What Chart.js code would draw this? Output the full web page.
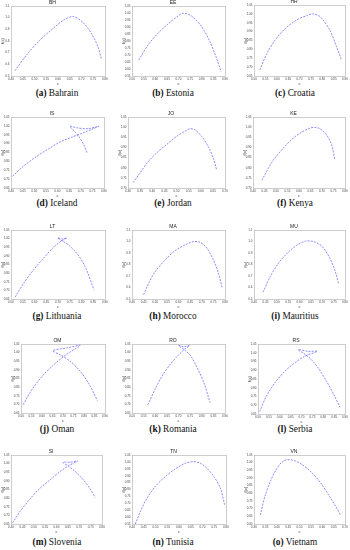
<!DOCTYPE html>
<html>
<head>
<meta charset="utf-8">
<script src="https://cdn.jsdelivr.net/npm/chart.js@4/dist/chart.umd.min.js"></script>
<style>
  body { margin: 0; background: #fff; }
  #page { position: relative; width: 350px; height: 550px; overflow: hidden; }
  .panel { position: absolute; }
  .cap { position: absolute; width: 116px; text-align: center; font-family: "Liberation Serif", serif; font-size: 9.3px; color: #111; white-space: nowrap; }
  .cap b { font-weight: bold; }
</style>
</head>
<body>
<div id="page"></div>
<script>
// country codes, captions
const codes = ["BH","EE","HR","IS","JO","KE","LT","MA","MU","OM","RO","RS","SI","TN","VN"];
const names = ["Bahrain","Estonia","Croatia","Iceland","Jordan","Kenya","Lithuania","Morocco","Mauritius","Oman","Romania","Serbia","Slovenia","Tunisia","Vietnam"];
const letters = ["a","b","c","d","e","f","g","h","i","j","k","l","m","n","o"];

// axis ranges (c on x, f(c) on y)
const xMin = [0.4,0.5,0.5,0.4,0.3,0.4,0.5,0.4,0.4,0.5,0.5,0.5,0.4,0.4,0.3];
const xMax = [0.8,0.9,0.9,0.8,0.7,0.8,0.9,0.8,0.8,0.9,0.9,0.9,0.8,0.8,0.7];
const yMin = [0.5,0.55,0.65,0.65,0.7,0.7,0.65,0.5,0.5,0.65,0.65,0.65,0.65,0.55,0.6];
const yMax = [1.1,1.05,1.05,1.05,1.05,1.05,1.05,1.1,1.1,1.05,1.05,1.05,1.05,1.05,1.05];
const yStep = [0.1,0.05,0.05,0.05,0.05,0.05,0.05,0.1,0.1,0.05,0.05,0.05,0.05,0.05,0.05];

// curves
const BH_c = [0.417,0.466,0.523,0.58,0.629,0.667,0.707,0.742,0.77,0.784];
const BH_f = [0.546,0.68,0.808,0.909,0.986,1.009,0.957,0.866,0.751,0.651];
const EE_c = [0.529,0.569,0.612,0.655,0.698,0.72,0.756,0.799,0.835,0.864,0.883];
const EE_f = [0.665,0.772,0.855,0.922,0.979,0.998,0.979,0.903,0.795,0.676,0.581];
const HR_c = [0.526,0.556,0.592,0.636,0.688,0.732,0.758,0.79,0.834,0.863,0.885];
const HR_f = [0.684,0.776,0.851,0.916,0.966,0.99,1.0,0.985,0.907,0.814,0.739];
const IS_c = [0.407,0.453,0.51,0.567,0.61,0.66,0.71,0.753,0.778,0.732,0.688,0.653,0.674,0.696,0.713,0.727];
const IS_f = [0.716,0.772,0.828,0.875,0.909,0.936,0.96,0.984,0.998,0.984,0.988,0.998,0.969,0.932,0.894,0.847];
const JO_c = [0.321,0.348,0.383,0.424,0.466,0.5,0.534,0.555,0.576,0.604,0.631,0.652,0.666];
const JO_f = [0.727,0.771,0.83,0.879,0.921,0.954,0.979,0.992,0.987,0.954,0.904,0.846,0.788];
const KE_c = [0.439,0.466,0.494,0.531,0.574,0.611,0.647,0.669,0.691,0.72,0.742,0.756];
const KE_f = [0.738,0.796,0.846,0.896,0.945,0.975,0.995,0.999,0.992,0.962,0.912,0.838];
const LT_c = [0.518,0.554,0.596,0.638,0.681,0.716,0.738,0.72,0.698,0.72,0.744,0.78,0.815,0.853];
const LT_f = [0.662,0.742,0.819,0.886,0.95,0.988,1.004,0.998,1.004,0.985,0.964,0.915,0.838,0.704];
const MA_c = [0.45,0.472,0.5,0.543,0.586,0.628,0.664,0.693,0.722,0.75,0.772,0.788];
const MA_f = [0.538,0.639,0.739,0.84,0.921,0.97,0.999,0.993,0.942,0.84,0.725,0.595];
const MU_c = [0.44,0.472,0.508,0.548,0.588,0.628,0.664,0.7,0.732,0.756,0.772];
const MU_f = [0.56,0.698,0.812,0.902,0.968,1.004,0.998,0.956,0.86,0.746,0.632];
const OM_c = [0.51,0.552,0.6,0.647,0.694,0.734,0.782,0.718,0.652,0.686,0.734,0.782,0.821,0.864];
const OM_f = [0.698,0.785,0.862,0.92,0.969,1.004,1.042,1.027,1.011,0.988,0.95,0.892,0.824,0.722];
const RO_c = [0.568,0.6,0.632,0.668,0.7,0.728,0.748,0.724,0.7,0.724,0.752,0.78,0.808,0.836];
const RO_f = [0.698,0.79,0.87,0.938,0.986,1.022,1.042,1.034,1.042,1.018,0.982,0.914,0.83,0.71];
const RS_c = [0.508,0.538,0.577,0.623,0.669,0.715,0.772,0.731,0.685,0.708,0.738,0.777,0.815,0.849,0.877];
const RS_f = [0.665,0.751,0.827,0.894,0.942,0.98,1.008,1.008,1.018,0.998,0.97,0.913,0.837,0.76,0.688];
const SI_c = [0.407,0.44,0.484,0.528,0.572,0.616,0.653,0.693,0.66,0.628,0.653,0.682,0.712,0.741,0.77];
const SI_f = [0.656,0.723,0.796,0.858,0.906,0.954,0.988,1.015,1.008,1.008,0.985,0.954,0.915,0.867,0.804];
const TN_c = [0.414,0.436,0.464,0.499,0.542,0.584,0.627,0.662,0.691,0.719,0.748,0.776,0.794];
const TN_f = [0.55,0.642,0.738,0.822,0.894,0.949,0.99,1.002,0.99,0.954,0.894,0.81,0.69];
const VN_c = [0.328,0.348,0.372,0.396,0.42,0.444,0.476,0.512,0.552,0.592,0.632,0.66,0.68];
const VN_f = [0.659,0.78,0.879,0.951,1.0,1.019,1.014,0.987,0.938,0.87,0.78,0.713,0.659];

const curvesC = [BH_c,EE_c,HR_c,IS_c,JO_c,KE_c,LT_c,MA_c,MU_c,OM_c,RO_c,RS_c,SI_c,TN_c,VN_c];
const curvesF = [BH_f,EE_f,HR_f,IS_f,JO_f,KE_f,LT_f,MA_f,MU_f,OM_f,RO_f,RS_f,SI_f,TN_f,VN_f];

// plot box in page pixels: left, top, right, bottom
const boxes = [
  [11,6,105,76],[132,6,225,76],[254,5,345,76],
  [11,117,104,188],[128,117,225,188],[253,117,345,188],
  [11,230,105,299],[132,230,225,299],[254,230,345,299],
  [21,344,105,413],[132,344,225,413],[258,344,345,414],
  [11,455,102,524],[132,455,226,524],[254,455,345,524]
];
const capY = [94,204,317,430,543];
const capX = [57,173,295];

const Y_W = 11, TITLE_H = 6, X_H = 10, PAD_R = 3;

const frame = {
  id: "frame",
  beforeDatasetsDraw(chart) {
    const a = chart.chartArea, ctx = chart.ctx;
    ctx.save();
    ctx.strokeStyle = "#b8b8b8";
    ctx.lineWidth = 0.7;
    ctx.strokeRect(Math.round(a.left) + 0.5, Math.round(a.top) + 0.5, Math.round(a.right - a.left), Math.round(a.bottom - a.top));
    ctx.restore();
  }
};

const page = document.getElementById("page");
const tickFont = { family: "Liberation Sans", size: 3 };

codes.forEach(function (code, i) {
  const b = boxes[i];
  const div = document.createElement("div");
  div.className = "panel";
  div.style.left = (b[0] - Y_W) + "px";
  div.style.top = (b[1] - TITLE_H) + "px";
  div.style.width = (b[2] - b[0] + Y_W + PAD_R) + "px";
  div.style.height = (b[3] - b[1] + TITLE_H + X_H) + "px";
  const cv = document.createElement("canvas");
  div.appendChild(cv);
  page.appendChild(div);

  const cap = document.createElement("div");
  cap.className = "cap";
  cap.style.left = (capX[i % 3] - 58) + "px";
  cap.style.top = (capY[Math.floor(i / 3)] - 6) + "px";
  cap.innerHTML = "<b>(" + letters[i] + ")</b> " + names[i];
  page.appendChild(cap);

  const pts = curvesC[i].map(function (c, k) { return { x: c, y: curvesF[i][k] }; });

  new Chart(cv, {
    type: "scatter",
    data: {
      datasets: [{
        data: pts,
        showLine: true,
        pointRadius: 0,
        borderColor: "rgb(90,90,255)",
        borderWidth: 0.7,
        borderDash: [2, 1.2],
        tension: 0.3
      }]
    },
    plugins: [frame],
    options: {
      responsive: true,
      maintainAspectRatio: false,
      animation: false,
      devicePixelRatio: 1,
      layout: { padding: { top: 0, left: 0, bottom: 0, right: PAD_R } },
      plugins: {
        legend: { display: false },
        tooltip: { enabled: false },
        title: {
          display: true,
          text: code,
          color: "#222",
          font: { family: "Liberation Sans", size: 5, weight: "normal" },
          padding: { top: 0, bottom: 0 }
        }
      },
      scales: {
        x: {
          type: "linear",
          min: xMin[i], max: xMax[i],
          ticks: { stepSize: 0.05, font: tickFont, color: "#444", padding: 1.5, maxRotation: 0, autoSkip: false },
          grid: { display: false, drawTicks: false },
          border: { display: false },
          title: { display: true, text: "c", font: { family: "Liberation Sans", size: 4 }, color: "#333", padding: { top: 0, bottom: 0 } },
          afterFit: function (s) { s.height = X_H; s.paddingLeft = 0; s.paddingRight = 0; }
        },
        y: {
          type: "linear",
          min: yMin[i], max: yMax[i],
          ticks: { stepSize: yStep[i], font: tickFont, color: "#444", padding: 1.5, autoSkip: false },
          grid: { display: false, drawTicks: false },
          border: { display: false },
          title: { display: true, text: "f(c)", font: { family: "Liberation Sans", size: 4 }, color: "#333", padding: { top: 0, bottom: 0 } },
          afterFit: function (s) { s.width = Y_W; s.paddingTop = 0; s.paddingBottom = 0; }
        }
      }
    }
  });
});
</script>
</body>
</html>
